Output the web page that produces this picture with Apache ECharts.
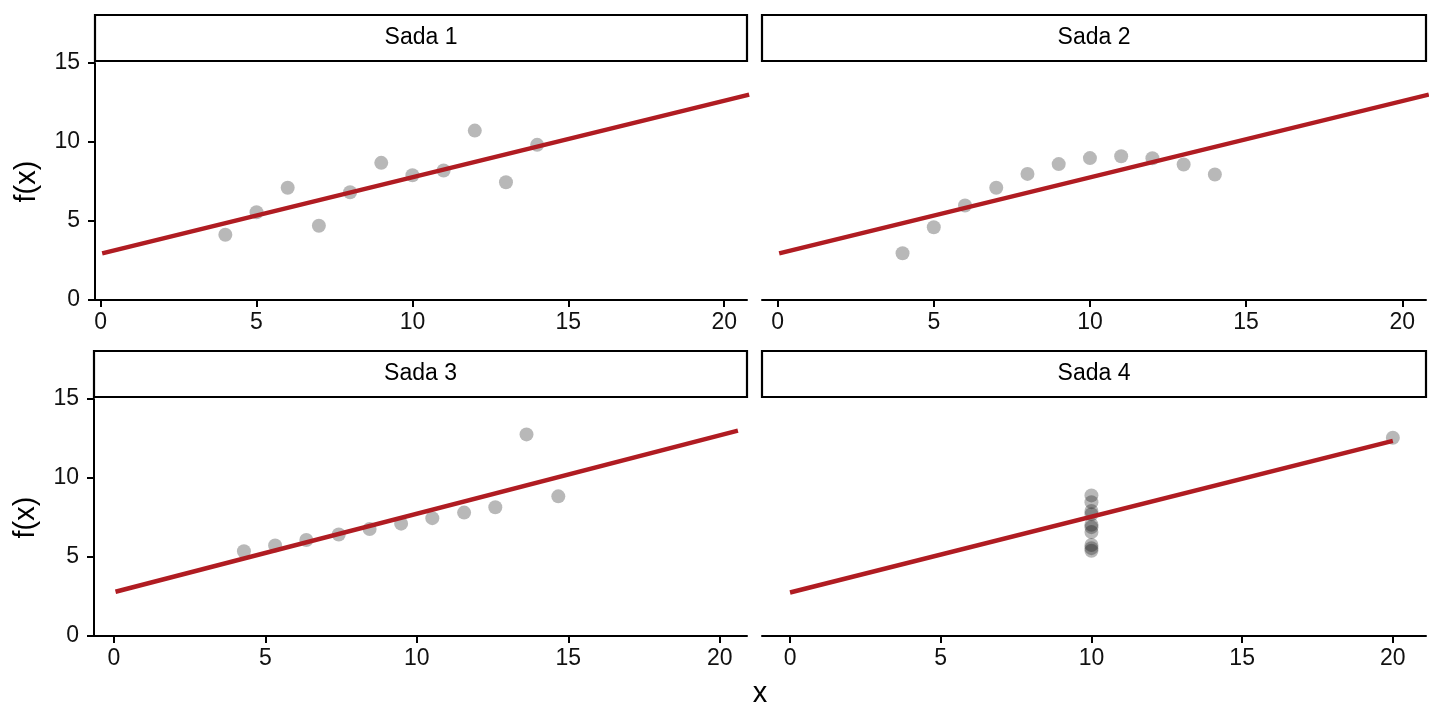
<!DOCTYPE html>
<html>
<head>
<meta charset="utf-8">
<script src="https://cdn.jsdelivr.net/npm/echarts@6/dist/echarts.min.js"></script>
<style>
  html, body { margin: 0; padding: 0; background: #fff; }
  #chart { width: 1440px; height: 720px; }
</style>
</head>
<body>
<div id="chart"></div>
<script>
// Anscombe-like sets
var panelNames = ['Sada 1', 'Sada 2', 'Sada 3', 'Sada 4'];
var x1 = [10, 8, 13, 9, 11, 14, 6, 4, 12, 7, 5];
var y1 = [7.9, 6.82, 7.45, 8.68, 8.2, 9.82, 7.1, 4.13, 10.72, 4.7, 5.55];
var x2 = [10, 8, 13, 9, 11, 14, 6, 4, 12, 7, 5];
var y2 = [8.98, 7.98, 8.58, 8.6, 9.1, 7.94, 5.98, 2.96, 8.97, 7.1, 4.6];
var x3 = [10.51, 8.44, 13.62, 9.48, 11.56, 14.67, 6.35, 4.29, 12.59, 7.42, 5.32];
var y3 = [7.46, 6.77, 12.76, 7.11, 7.81, 8.84, 6.08, 5.36, 8.15, 6.42, 5.73];
var x4 = [10, 10, 10, 10, 10, 10, 10, 20, 10, 10, 10];
var y4 = [6.58, 5.76, 7.71, 8.9, 8.47, 7.04, 5.4, 12.55, 5.56, 7.91, 6.89];

// fitted line end points per panel [x0, y0, x1, y1]
var fit1 = [0.05, 2.95, 20.8, 13.0];
var fit2 = [0.05, 2.95, 20.85, 13.0];
var fit3 = [0.05, 2.8, 20.6, 13.0];
var fit4 = [0.0, 2.75, 20.0, 12.35];

// x range of each panel (free scales)
var xMin = [-0.18, -0.5, -0.66, -0.93];
var xMax = [20.73, 20.76, 20.9, 21.1];
var xTicks = [0, 5, 10, 15, 20];
var yTicks = [0, 5, 10, 15];

var xs = [x1, x2, x3, x4];
var ys = [y1, y2, y3, y4];
var fits = [fit1, fit2, fit3, fit4];

var font = 'Liberation Sans, Arial, Helvetica, sans-serif';
var pos = [
  {left: 95, top: 63, width: 652},
  {left: 762, top: 63, width: 664},
  {left: 94, top: 399, width: 653},
  {left: 762, top: 399, width: 664}
];
var plotH = 237;

var grids = [], xAxes = [], yAxes = [], series = [], graphics = [];

for (var i = 0; i < 4; i++) {
  grids.push({left: pos[i].left, top: pos[i].top, width: pos[i].width, height: plotH});

  xAxes.push({
    type: 'value', gridIndex: i, min: xMin[i], max: xMax[i],
    splitLine: {show: false},
    axisLine: {onZero: false, lineStyle: {color: '#000', width: 2}},
    axisTick: {length: 7, lineStyle: {color: '#000', width: 2}, customValues: xTicks},
    axisLabel: {color: '#111', fontSize: 23, fontFamily: font, margin: 11, customValues: xTicks}
  });

  var left = (i % 2 === 0);
  yAxes.push({
    type: 'value', gridIndex: i, min: 0, max: 15, interval: 5,
    splitLine: {show: false},
    axisLine: {show: left, onZero: false, lineStyle: {color: '#000', width: 2}},
    axisTick: {show: left, length: 7, lineStyle: {color: '#000', width: 2}, customValues: yTicks},
    axisLabel: {show: left, color: '#111', fontSize: 23, fontFamily: font, margin: 15, customValues: yTicks},
    name: left ? 'f(x)' : '',
    nameLocation: 'middle', nameGap: 54,
    nameTextStyle: {color: '#000', fontSize: 29, fontFamily: font}
  });

  var pts = xs[i].map(function (v, k) { return [v, ys[i][k]]; });
  series.push({
    type: 'scatter', xAxisIndex: i, yAxisIndex: i, data: pts,
    symbolSize: 14, z: 2,
    itemStyle: {color: 'rgba(0,0,0,0.35)', borderWidth: 0}
  });

  var f = fits[i];
  series.push({
    type: 'line', xAxisIndex: i, yAxisIndex: i,
    data: [[f[0], f[1]], [f[2], f[3]]],
    showSymbol: false, symbol: 'none', clip: true, z: 3,
    lineStyle: {color: '#b01c22', width: 4.5, cap: 'butt'}
  });

  // facet strip
  graphics.push({
    type: 'rect',
    shape: {x: pos[i].left, y: pos[i].top - 48, width: pos[i].width, height: 46},
    style: {fill: '#fff', stroke: '#000', lineWidth: 2.2},
    z: 10
  });
  graphics.push({
    type: 'text',
    x: pos[i].left + pos[i].width / 2, y: pos[i].top - 25,
    style: {text: panelNames[i], fill: '#000', font: '23px ' + font, textAlign: 'center', textVerticalAlign: 'middle'},
    z: 11
  });
}

graphics.push({
  type: 'text', x: 760, y: 694,
  style: {text: 'x', fill: '#000', font: '29px ' + font, textAlign: 'center', textVerticalAlign: 'middle'}
});

var chart = echarts.init(document.getElementById('chart'));
chart.setOption({
  animation: false,
  backgroundColor: '#fff',
  grid: grids,
  xAxis: xAxes,
  yAxis: yAxes,
  series: series,
  graphic: graphics
});
</script>
</body>
</html>
